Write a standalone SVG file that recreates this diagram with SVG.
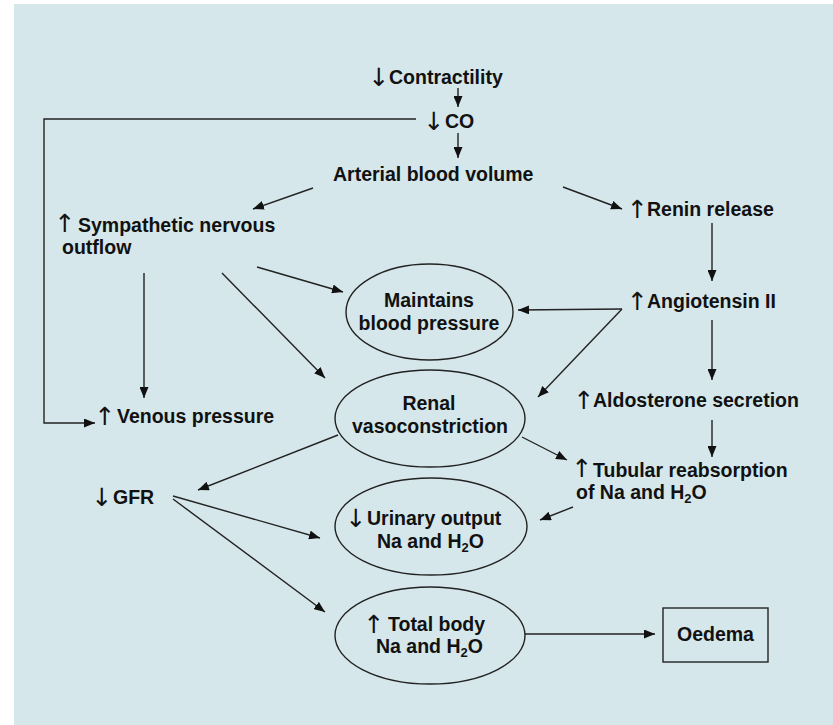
<svg xmlns="http://www.w3.org/2000/svg" width="833" height="725" viewBox="0 0 833 725">
<defs>
<marker id="ah" viewBox="0 0 11 9" refX="11" refY="4.5" markerWidth="11" markerHeight="9" orient="auto" markerUnits="userSpaceOnUse"><path d="M0,0 L11,4.5 L0,9 z" fill="#111"/></marker>
<style>
.t{font-family:"Liberation Sans",Arial,sans-serif;font-weight:bold;font-size:19.5px;fill:#111}
.m{text-anchor:middle}
.ar{font-family:"DejaVu Sans",sans-serif;font-weight:normal;font-size:25px;fill:#111;text-anchor:middle}
.sub{font-size:13px}
.n{fill:none;stroke:#222;stroke-width:1.4}
.c line,.c polyline{fill:none;stroke:#222;stroke-width:1.4;marker-end:url(#ah)}
</style>
</defs>
<rect x="14" y="4" width="819" height="721" fill="#d5e7ea"/>

<g id="contractility"><text class="ar" x="379" y="86">↓</text><text class="t" x="389" y="84">Contractility</text></g>
<g id="co"><text class="ar" x="434" y="130">↓</text><text class="t" x="445" y="128">CO</text></g>
<g id="arterial"><text class="t" x="333" y="181">Arterial blood volume</text></g>
<g id="sympathetic"><text class="ar" x="65" y="232">↑</text><text class="t"><tspan x="78" y="232">Sympathetic nervous</tspan><tspan x="62" y="254">outflow</tspan></text></g>
<g id="renin"><text class="ar" x="637.5" y="218">↑</text><text class="t" x="647" y="216">Renin release</text></g>
<g id="angiotensin"><text class="ar" x="637.5" y="310">↑</text><text class="t" x="647" y="308">Angiotensin II</text></g>
<g id="maintains"><ellipse class="n" cx="429.5" cy="312" rx="83.5" ry="48"/><text class="t m"><tspan x="429" y="307">Maintains</tspan><tspan x="429" y="330">blood pressure</tspan></text></g>
<g id="venous"><text class="ar" x="105" y="425">↑</text><text class="t" x="117" y="423">Venous pressure</text></g>
<g id="renal"><ellipse class="n" cx="430" cy="418.5" rx="95" ry="48.5"/><text class="t m"><tspan x="429" y="410">Renal</tspan><tspan x="430" y="433">vasoconstriction</tspan></text></g>
<g id="aldosterone"><text class="ar" x="584" y="409">↑</text><text class="t" x="593" y="407">Aldosterone secretion</text></g>
<g id="tubular"><text class="ar" x="582" y="477">↑</text><text class="t"><tspan x="593" y="477">Tubular reabsorption</tspan><tspan x="576" y="499">of Na and H</tspan><tspan class="sub" dy="4">2</tspan><tspan dy="-4">O</tspan></text></g>
<g id="gfr"><text class="ar" x="102" y="506">↓</text><text class="t" x="113" y="504">GFR</text></g>
<g id="urinary"><ellipse class="n" cx="431" cy="526.5" rx="96" ry="48.5"/><text class="ar" x="356" y="527">↓</text><text class="t"><tspan x="367" y="525">Urinary output</tspan><tspan x="377" y="548">Na and H</tspan><tspan class="sub" dy="4">2</tspan><tspan dy="-4">O</tspan></text></g>
<g id="total"><ellipse class="n" cx="430" cy="635.5" rx="95" ry="48.5"/><text class="ar" x="374" y="633">↑</text><text class="t"><tspan x="388" y="631">Total body</tspan><tspan x="376" y="653">Na and H</tspan><tspan class="sub" dy="4">2</tspan><tspan dy="-4">O</tspan></text></g>
<g id="oedema"><rect class="n" x="663" y="608" width="105" height="54"/><text class="t m" x="715.5" y="641">Oedema</text></g>

<g id="connectors" class="c">
<line x1="458" y1="88" x2="458" y2="107"/>
<line x1="458" y1="133" x2="458" y2="158"/>
<polyline points="416,119 44,119 44,423 95,423"/>
<line x1="313" y1="188" x2="253" y2="209"/>
<line x1="563" y1="187" x2="622" y2="209"/>
<line x1="257" y1="267" x2="343" y2="292"/>
<line x1="222" y1="273" x2="325" y2="378"/>
<line x1="144" y1="273" x2="144" y2="398"/>
<line x1="712" y1="223" x2="712" y2="281"/>
<line x1="622" y1="309" x2="518" y2="310"/>
<line x1="622" y1="309" x2="538" y2="397"/>
<line x1="712" y1="320" x2="712" y2="380"/>
<line x1="712" y1="420" x2="712" y2="457"/>
<line x1="522" y1="437" x2="567" y2="460"/>
<line x1="338" y1="435" x2="198" y2="490"/>
<line x1="573" y1="507" x2="540" y2="520"/>
<line x1="173" y1="496" x2="320" y2="538"/>
<line x1="173" y1="499" x2="325" y2="612"/>
<line x1="525" y1="634" x2="655" y2="634"/>
</g>
</svg>
